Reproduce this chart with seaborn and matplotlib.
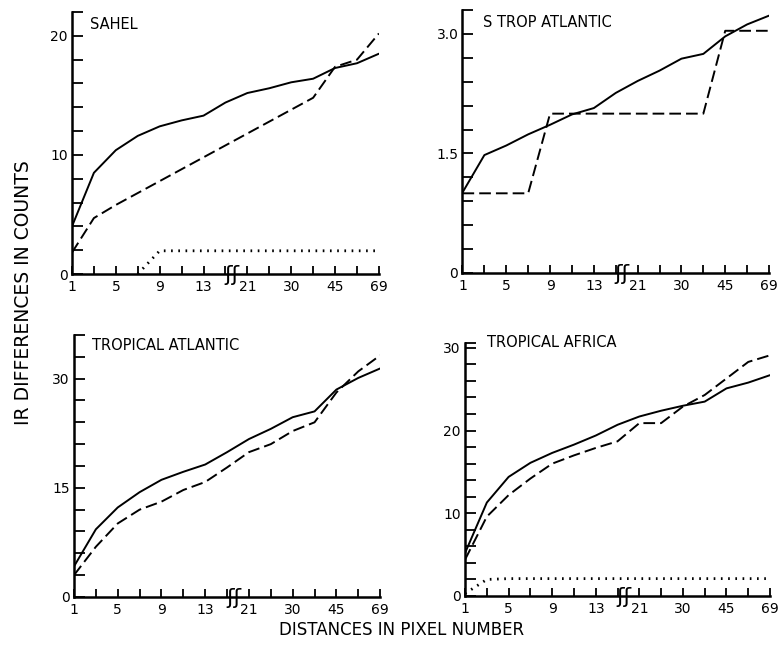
import numpy as np
import pandas as pd
import matplotlib
matplotlib.use("Agg")
import matplotlib.pyplot as plt
import matplotlib.transforms as mtransforms
import seaborn as sns

# Pixel-distance tick positions (evenly spaced categories) and their labels
positions = list(range(15))
label_positions = [0, 2, 4, 6, 8, 10, 12, 14]
tick_labels = ["1", "5", "9", "13", "21", "30", "45", "69"]

# Sahel
sahel_solid = [4.0, 8.5, 10.4, 11.6, 12.4, 12.9, 13.3, 14.4, 15.2, 15.6, 16.1, 16.4, 17.3, 17.7, 18.5]
sahel_dashed = [1.8, 4.7, 5.8, 6.8, 7.8, 8.8, 9.8, 10.8, 11.8, 12.8, 13.8, 14.8, 17.4, 18.0, 20.2]
sahel_dotted_pos = [3, 4, 5, 6, 7, 8, 9, 10, 11, 12, 13, 14]
sahel_dotted = [0.0, 1.95, 1.95, 1.95, 1.95, 1.95, 1.95, 1.95, 1.95, 1.95, 1.95, 1.95]

# S Trop Atlantic
strop_solid = [1.01, 1.48, 1.60, 1.74, 1.86, 1.99, 2.07, 2.26, 2.41, 2.54, 2.69, 2.75, 2.97, 3.12, 3.23]
strop_dashed = [1.0, 1.0, 1.0, 1.0, 2.0, 2.0, 2.0, 2.0, 2.0, 2.0, 2.0, 2.0, 3.04, 3.04, 3.04]

# Tropical Atlantic
tatl_solid = [4.2, 9.3, 12.3, 14.4, 16.1, 17.2, 18.2, 19.9, 21.7, 23.1, 24.7, 25.5, 28.5, 30.1, 31.4]
tatl_dashed = [3.0, 6.9, 10.1, 12.0, 13.1, 14.7, 15.8, 17.8, 19.9, 21.0, 22.8, 24.0, 28.1, 31.0, 33.2]

# Tropical Africa
tafr_solid = [5.2, 11.3, 14.4, 16.1, 17.3, 18.3, 19.4, 20.7, 21.7, 22.4, 23.0, 23.5, 25.1, 25.8, 26.7]
tafr_dashed = [4.4, 9.6, 12.2, 14.2, 16.0, 17.0, 17.9, 18.7, 20.9, 20.9, 22.9, 24.3, 26.3, 28.3, 29.1]
tafr_dotted = [0.3, 2.0, 2.1, 2.1, 2.1, 2.1, 2.1, 2.1, 2.1, 2.1, 2.1, 2.1, 2.1, 2.1, 2.1]

sns.set_theme(style="ticks")
plt.rcParams["font.family"] = ["DejaVu Sans"]

fig = plt.figure(figsize=(7.79, 6.54), dpi=100)

panels = [
    dict(title="SAHEL", rect=[0.0924, 0.581, 0.394, 0.4006], ymax=22, step=2,
         yticks=[0, 10, 20], ylabels=["0", "10", "20"], title_xy=(0.059, 0.954),
         solid=sahel_solid, dashed=sahel_dashed,
         dotted=(sahel_dotted_pos, sahel_dotted)),
    dict(title="S TROP ATLANTIC", rect=[0.5937, 0.5826, 0.3935, 0.402], ymax=3.3, step=0.3,
         yticks=[0, 1.5, 3.0], ylabels=["0", "1.5", "3.0"], title_xy=(0.067, 0.954),
         solid=strop_solid, dashed=strop_dashed, dotted=None),
    dict(title="TROPICAL ATLANTIC", rect=[0.095, 0.0872, 0.393, 0.4006], ymax=36, step=3,
         yticks=[0, 15, 30], ylabels=["0", "15", "30"], title_xy=(0.059, 0.958),
         solid=tatl_solid, dashed=tatl_dashed, dotted=None),
    dict(title="TROPICAL AFRICA", rect=[0.597, 0.0887, 0.3915, 0.387], ymax=30.6, step=2,
         yticks=[0, 10, 20, 30], ylabels=["0", "10", "20", "30"], title_xy=(0.072, 1.0),
         solid=tafr_solid, dashed=tafr_dashed, dotted=(positions, tafr_dotted)),
]

line_kw = dict(color="black", estimator=None, sort=False, legend=False)

for p in panels:
    ax = fig.add_axes(p["rect"])
    sns.lineplot(x=positions, y=p["solid"], ax=ax, linewidth=1.4, **line_kw)
    sns.lineplot(x=positions, y=p["dashed"], ax=ax, linewidth=1.4,
                 linestyle=(0, (6.0, 2.6)), **line_kw)
    if p["dotted"] is not None:
        dx, dy = p["dotted"]
        sns.lineplot(x=dx, y=dy, ax=ax, linewidth=2.0,
                     linestyle=(0, (0.6, 2.0)), **line_kw)

    ax.set_xlim(0, 14)
    ax.set_ylim(0, p["ymax"])
    sns.despine(ax=ax)
    for side in ("left", "bottom"):
        ax.spines[side].set_linewidth(1.8)
        ax.spines[side].set_color("black")

    ax.set_xticks(label_positions)
    ax.set_xticklabels(tick_labels)
    ax.set_xticks(positions, minor=True)
    nminor = int(round(p["ymax"] / p["step"]))
    minor_y = [i * p["step"] for i in range(nminor + 1)]
    if minor_y[-1] < p["ymax"] - 1e-9:
        minor_y.append(p["ymax"])
    ax.set_yticks(p["yticks"])
    ax.set_yticklabels(p["ylabels"])
    ax.set_yticks(minor_y, minor=True)

    ax.tick_params(axis="both", which="both", direction="in", color="black",
                   width=1.3, labelsize=10, labelcolor="black")
    ax.tick_params(axis="x", which="both", length=6, pad=4)
    ax.tick_params(axis="y", which="both", length=8, pad=3)
    ax.set_xlabel("")
    ax.set_ylabel("")

    # axis break marker between 13 and 21
    trans = mtransforms.blended_transform_factory(ax.transData, ax.transAxes)
    ax.text(7.3, -0.005, "ʃʃ", transform=trans, ha="center", va="center",
            fontsize=16, color="black", clip_on=False)

    ax.text(p["title_xy"][0], p["title_xy"][1], p["title"], transform=ax.transAxes,
            ha="left", va="center", fontsize=10.5, color="black")

fig.text(0.030, 0.552, "IR DIFFERENCES IN COUNTS", rotation=90, ha="center", va="center",
         fontsize=13.5, color="black")
fig.text(0.516, 0.037, "DISTANCES IN PIXEL NUMBER", ha="center", va="center",
         fontsize=12, color="black")

fig.savefig("out.png", dpi=100, facecolor="white")
